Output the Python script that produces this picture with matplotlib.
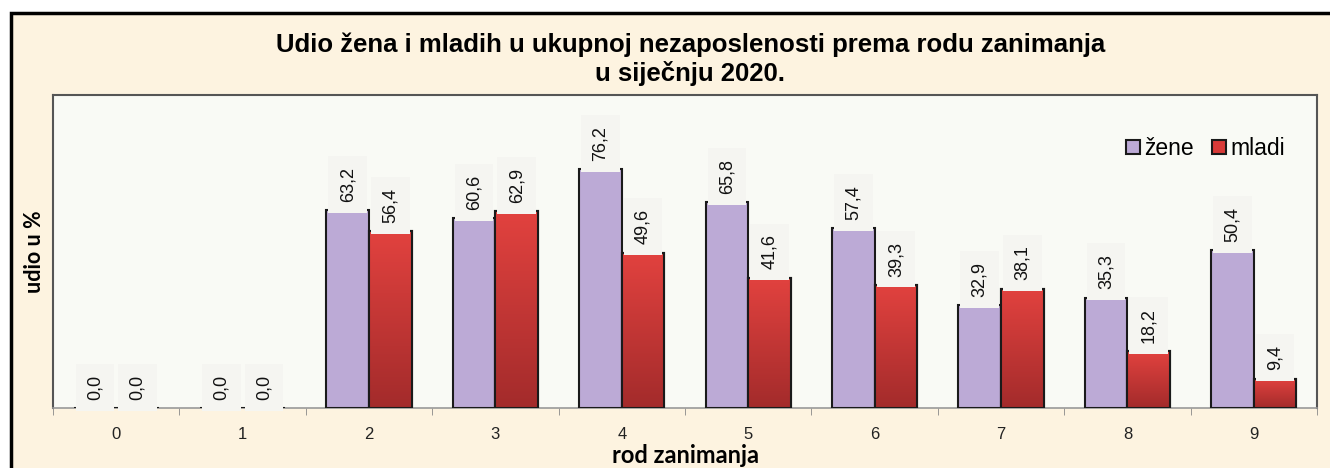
import numpy as np
import matplotlib
matplotlib.use("Agg")
import matplotlib.pyplot as plt
from matplotlib.patches import Rectangle
from matplotlib.colors import LinearSegmentedColormap

categories = ["0", "1", "2", "3", "4", "5", "6", "7", "8", "9"]
zene = [0.0, 0.0, 63.2, 60.6, 76.2, 65.8, 57.4, 32.9, 35.3, 50.4]
mladi = [0.0, 0.0, 56.4, 62.9, 49.6, 41.6, 39.3, 38.1, 18.2, 9.4]

purple = "#BCAAD6"
red_top = "#E2423F"
red_bot = "#A32B2B"
beige = "#FDF3E0"
plot_bg = "#F9FAF5"

fig = plt.figure(figsize=(13.3, 4.68), dpi=100)
fig.patch.set_facecolor("white")
fig.patches.append(Rectangle((11 / 1330, -0.05), 1.1, 1 - 13 / 468 + 0.05,
                             transform=fig.transFigure, facecolor=beige,
                             edgecolor="black", linewidth=2.5, zorder=-10))

ax = fig.add_axes([53 / 1330, 1 - 408 / 468, (1317 - 53) / 1330, (408 - 95) / 468])
ax.set_facecolor(plot_bg)

x = np.arange(len(categories))
w = 0.337
b1 = ax.bar(x - w / 2, zene, w, color=purple, edgecolor="#1a1a1a", linewidth=1.5, label="žene", zorder=3)
b2 = ax.bar(x + w / 2, mladi, w, color=red_top, edgecolor="#1a1a1a", linewidth=1.5, label="mladi", zorder=3)

# gradient fill for red bars
cmap = LinearSegmentedColormap.from_list("rg", [red_bot, red_top])
grad = np.linspace(0, 1, 256).reshape(-1, 1)
for p in b2:
    if p.get_height() <= 0:
        continue
    x0, y0 = p.get_x(), p.get_y()
    im = ax.imshow(grad, cmap=cmap, aspect="auto", origin="lower",
                   extent=[x0, x0 + p.get_width(), y0, y0 + p.get_height()], zorder=3.5)
    im.set_clip_path(p)
    edge = Rectangle((x0, y0), p.get_width(), p.get_height(), fill=False,
                     edgecolor="#1a1a1a", linewidth=1.5, zorder=4)
    ax.add_patch(edge)

for bars, vals in ((b1, zene), (b2, mladi)):
    for p, v in zip(bars, vals):
        ax.annotate(f"{v:.1f}".replace(".", ","),
                    (p.get_x() + p.get_width() / 2, p.get_height()),
                    xytext=(0, 6), textcoords="offset points",
                    ha="center", va="bottom", rotation=90,
                    fontsize=13, family="Liberation Sans", color="#111111", zorder=5,
                    bbox=dict(boxstyle="square,pad=0.6", facecolor="#F5F5F1", edgecolor="none"))

ax.set_xlim(-0.5, len(categories) - 0.5)
ax.set_ylim(0, 100)
ax.set_xticks(x)
ax.set_xticklabels(categories, fontsize=12, family="Liberation Sans", color="#222222")
ax.set_xticks(np.arange(-0.5, len(categories), 1), minor=True)
ax.tick_params(axis="x", which="major", length=0, pad=14)
ax.tick_params(axis="x", which="minor", length=5, color="#888888", direction="out")
ax.set_yticks([])

for s in ("left", "top", "right"):
    ax.spines[s].set_color("#555555")
    ax.spines[s].set_linewidth(1.5)
ax.spines["bottom"].set_color("#999999")
ax.spines["bottom"].set_linewidth(1.2)

ax.set_ylabel("udio u %", fontsize=15.5, fontweight="bold", family="Lato", labelpad=6)
ax.set_xlabel("rod zanimanja", fontsize=17, fontweight="bold", family="Lato", labelpad=1)

fig.text(0.519, 1 - 45 / 468, "Udio žena i mladih u ukupnoj nezaposlenosti prema rodu zanimanja",
         ha="center", va="center", fontsize=18.5, fontweight="bold", family="Liberation Sans")
fig.text(0.519, 1 - 73 / 468, "u siječnju 2020.",
         ha="center", va="center", fontsize=18.5, fontweight="bold", family="Liberation Sans")

leg = ax.legend(loc="upper right", bbox_to_anchor=(0.982, 0.895), ncol=2, frameon=False,
                prop={"family": "Liberation Sans", "size": 16.5},
                handlelength=0.6, handleheight=0.6, handletextpad=0.2, columnspacing=0.8,
                borderaxespad=0)
leg.legend_handles[1].set_facecolor("#D83A38")

fig.savefig("out.png", dpi=100)
